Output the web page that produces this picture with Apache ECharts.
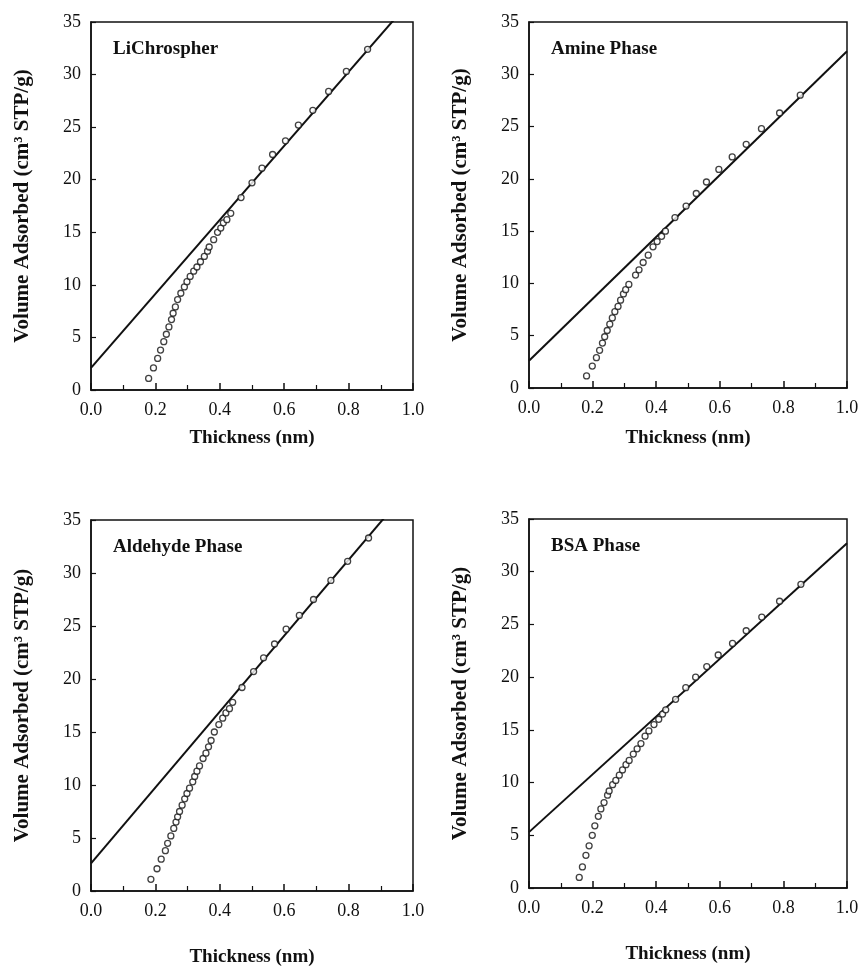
<!DOCTYPE html>
<html>
<head>
<meta charset="utf-8">
<script src="https://cdn.jsdelivr.net/npm/echarts@6/dist/echarts.min.js"></script>
<style>
  html, body { margin: 0; padding: 0; background: #fff; }
  #chart { width: 863px; height: 971px; }
</style>
</head>
<body>
<div id="chart"></div>
<script>
// panel names
var panelNames = ['LiChrospher', 'Amine Phase', 'Aldehyde Phase', 'BSA Phase'];

// t-plot points: [thickness nm, volume cm3 STP/g]
var liChrospher = [
  [0.179, 1.1], [0.194, 2.1], [0.207, 3.0], [0.216, 3.8], [0.226, 4.6], [0.234, 5.3],
  [0.242, 6.0], [0.250, 6.7], [0.255, 7.3], [0.262, 7.9], [0.269, 8.6], [0.279, 9.2],
  [0.290, 9.8], [0.298, 10.3], [0.308, 10.8], [0.319, 11.3], [0.329, 11.7], [0.340, 12.2],
  [0.352, 12.7], [0.362, 13.2], [0.367, 13.6], [0.381, 14.3], [0.393, 15.0], [0.403, 15.4],
  [0.411, 15.9], [0.422, 16.2], [0.434, 16.8], [0.466, 18.3], [0.500, 19.7], [0.531, 21.1],
  [0.564, 22.4], [0.604, 23.7], [0.644, 25.2], [0.689, 26.6], [0.738, 28.4], [0.793, 30.3],
  [0.859, 32.4]
];
var aminePhase = [
  [0.181, 1.15], [0.199, 2.1], [0.212, 2.9], [0.222, 3.6], [0.231, 4.3], [0.238, 4.9],
  [0.246, 5.5], [0.254, 6.1], [0.262, 6.7], [0.270, 7.3], [0.280, 7.8], [0.288, 8.4],
  [0.297, 9.0], [0.304, 9.4], [0.314, 9.9], [0.335, 10.8], [0.346, 11.3], [0.359, 12.0],
  [0.375, 12.7], [0.390, 13.5], [0.403, 14.0], [0.417, 14.5], [0.429, 15.0], [0.459, 16.3],
  [0.494, 17.4], [0.526, 18.6], [0.558, 19.7], [0.597, 20.9], [0.639, 22.1], [0.683, 23.3],
  [0.731, 24.8], [0.788, 26.3], [0.853, 28.0]
];
var aldehydePhase = [
  [0.186, 1.1], [0.205, 2.1], [0.218, 3.0], [0.231, 3.8], [0.238, 4.5], [0.248, 5.2],
  [0.257, 5.9], [0.264, 6.5], [0.269, 7.0], [0.275, 7.5], [0.283, 8.1], [0.291, 8.7],
  [0.298, 9.2], [0.306, 9.7], [0.316, 10.3], [0.322, 10.8], [0.329, 11.3], [0.337, 11.8],
  [0.348, 12.5], [0.357, 13.0], [0.365, 13.6], [0.373, 14.2], [0.383, 15.0], [0.397, 15.7],
  [0.409, 16.3], [0.419, 16.8], [0.430, 17.2], [0.440, 17.8], [0.469, 19.2], [0.505, 20.7],
  [0.536, 22.0], [0.570, 23.3], [0.606, 24.7], [0.647, 26.0], [0.691, 27.5], [0.745, 29.3],
  [0.797, 31.1], [0.862, 33.3]
];
var bsaPhase = [
  [0.158, 1.0], [0.168, 2.0], [0.179, 3.1], [0.189, 4.0], [0.199, 5.0], [0.207, 5.9],
  [0.218, 6.8], [0.226, 7.5], [0.236, 8.1], [0.247, 8.8], [0.252, 9.2], [0.263, 9.8],
  [0.273, 10.2], [0.284, 10.7], [0.294, 11.2], [0.305, 11.7], [0.315, 12.1], [0.328, 12.7],
  [0.340, 13.2], [0.352, 13.7], [0.365, 14.4], [0.377, 14.9], [0.393, 15.5], [0.408, 16.0],
  [0.420, 16.5], [0.430, 16.9], [0.461, 17.9], [0.493, 19.0], [0.524, 20.0], [0.559, 21.0],
  [0.595, 22.1], [0.640, 23.2], [0.683, 24.4], [0.732, 25.7], [0.788, 27.2], [0.855, 28.8]
];

// straight-line fits: ends at thickness 0 and 1
var fitLines = [
  [[0, 2.1], [1, 37.3]],
  [[0, 2.6], [1, 32.2]],
  [[0, 2.6], [1, 38.4]],
  [[0, 5.3], [1, 32.7]]
];

var xTicks = ['0.0', '0.2', '0.4', '0.6', '0.8', '1.0'];
var yMax = 35;

var panelData = [liChrospher, aminePhase, aldehydePhase, bsaPhase];

// panel boxes in px
var boxes = [
  { left: 91, top: 22, width: 322, height: 368, nameGap: 39 },
  { left: 529, top: 22, width: 318, height: 366, nameGap: 41 },
  { left: 91, top: 520, width: 322, height: 371, nameGap: 57 },
  { left: 529, top: 519, width: 318, height: 369, nameGap: 57 }
];

var serif = 'Liberation Serif, Times New Roman, serif';
var grids = [], xAxes = [], yAxes = [], series = [], graphics = [];

boxes.forEach(function (b, i) {
  grids.push({
    left: b.left, top: b.top, width: b.width, height: b.height,
    show: true, borderColor: '#111', borderWidth: 1.5, backgroundColor: 'transparent'
  });
  xAxes.push({
    gridIndex: i, type: 'value', min: 0, max: 1, interval: 0.2,
    name: 'Thickness (nm)', nameLocation: 'middle', nameGap: b.nameGap,
    nameTextStyle: { fontFamily: serif, fontWeight: 'bold', fontSize: 19, color: '#111' },
    axisLine: { show: true, lineStyle: { color: '#111', width: 1.5 } },
    axisTick: { show: true, inside: true, length: 7, lineStyle: { color: '#111', width: 1.5 } },
    minorTick: { show: true, splitNumber: 2, length: 5, lineStyle: { color: '#111', width: 1.2 } },
    splitLine: { show: false },
    axisLabel: {
      margin: 11, fontFamily: serif, fontSize: 18, color: '#111',
      formatter: function (v) { return xTicks[Math.round(v / 0.2)]; }
    }
  });
  yAxes.push({
    gridIndex: i, type: 'value', min: 0, max: yMax, interval: 5,
    name: 'Volume Adsorbed (cm³ STP/g)', nameLocation: 'middle', nameGap: 58,
    nameTextStyle: { fontFamily: serif, fontWeight: 'bold', fontSize: 21, color: '#111' },
    axisLine: { show: true, lineStyle: { color: '#111', width: 1.5 } },
    axisTick: { show: true, inside: true, length: 5, lineStyle: { color: '#111', width: 1.2 } },
    splitLine: { show: false },
    axisLabel: { margin: 10, fontFamily: serif, fontSize: 18, color: '#111' }
  });
  series.push({
    type: 'line', xAxisIndex: i, yAxisIndex: i, data: fitLines[i],
    showSymbol: false, clip: true, silent: true,
    lineStyle: { color: '#111', width: 2 }, z: 2
  });
  series.push({
    type: 'scatter', xAxisIndex: i, yAxisIndex: i, data: panelData[i],
    symbol: 'circle', symbolSize: 6,
    itemStyle: { color: '#fff', borderColor: '#111', borderWidth: 1.3 }, z: 3
  });
  graphics.push({
    type: 'text', left: b.left + 22, top: b.top + 18,
    style: { text: panelNames[i], font: 'bold 19px ' + serif, fill: '#111' }
  });
});

var chart = echarts.init(document.getElementById('chart'), null, { renderer: 'canvas' });
chart.setOption({
  backgroundColor: '#fff',
  animation: false,
  grid: grids,
  xAxis: xAxes,
  yAxis: yAxes,
  series: series,
  graphic: graphics
});
</script>
</body>
</html>
